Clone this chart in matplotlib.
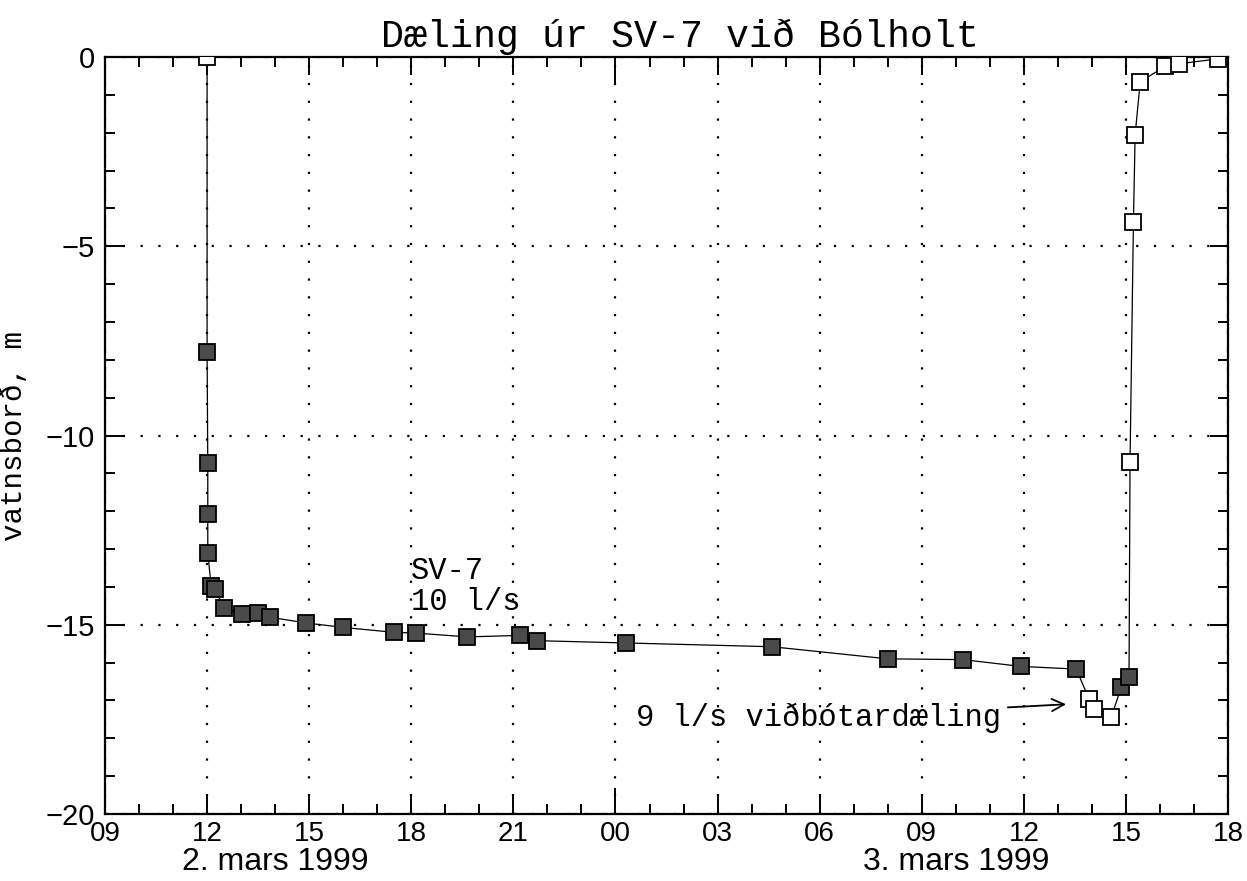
import matplotlib
matplotlib.use("Agg")
from matplotlib import pyplot as plt
from matplotlib.ticker import MultipleLocator, FuncFormatter

# time in hours from 00:00 on 2 March 1999, water level in m
hours_pump = [12.0, 12.0, 12.02, 12.02, 12.02, 12.12, 12.22, 12.5, 13.02, 13.5, 13.85,
              14.9, 16.0, 17.5, 18.15, 19.65, 21.2, 21.7, 24.3, 28.6, 32.0, 34.2, 35.92, 37.54]
level_pump = [0.0, -7.8, -10.72, -12.08, -13.1, -13.98, -14.05, -14.55, -14.72, -14.68, -14.8,
              -14.95, -15.07, -15.2, -15.22, -15.32, -15.28, -15.42, -15.48, -15.58, -15.9,
              -15.92, -16.1, -16.17]
hours_extra = [37.92, 38.07, 38.57]
level_extra = [-16.97, -17.23, -17.44]
hours_after = [38.86, 39.09]
level_after = [-16.65, -16.39]
hours_recovery = [39.12, 39.22, 39.27, 39.42, 40.15, 40.55, 41.7]
level_recovery = [-10.7, -4.35, -2.05, -0.65, -0.25, -0.18, -0.05]

title = "Dæling úr SV-7 við Bólholt"
y_title = "vatnsborð, m"
date_labels = ["2. mars 1999", "3. mars 1999"]
date_label_hours = [14.0, 34.0]

mono = ["Liberation Mono", "DejaVu Sans Mono"]
sans = ["Liberation Sans", "DejaVu Sans"]

fig = plt.figure(figsize=(12.47, 8.81), dpi=100)
ax = fig.add_axes([0.0842, 0.0760, 0.9006, 0.8593])

all_hours = hours_pump + hours_extra + hours_after + hours_recovery
all_level = level_pump + level_extra + level_after + level_recovery
ax.plot(all_hours, all_level, color="black", lw=0.9, zorder=3)
ax.plot(hours_pump[:1], level_pump[:1], ls="none", marker="s", ms=12, mfc="white",
        mec="black", mew=1.3, zorder=4)
ax.plot(hours_pump[1:] + hours_after, level_pump[1:] + level_after, ls="none", marker="s",
        ms=12, mfc="#4a4a4a", mec="black", mew=1.3, zorder=4)
ax.plot(hours_extra + hours_recovery, level_extra + level_recovery, ls="none", marker="s",
        ms=12, mfc="white", mec="black", mew=1.3, zorder=4)

ax.set_xlim(9, 42)
ax.set_ylim(-20, 0)
ax.xaxis.set_major_locator(MultipleLocator(3))
ax.xaxis.set_minor_locator(MultipleLocator(1))
ax.yaxis.set_major_locator(MultipleLocator(5))
ax.yaxis.set_minor_locator(MultipleLocator(1))
ax.xaxis.set_major_formatter(FuncFormatter(lambda h, pos: "%02d" % (int(round(h)) % 24)))
ax.yaxis.set_major_formatter(FuncFormatter(lambda v, pos: "%d" % v if v == 0 else "\u2212%d" % -v))

ax.tick_params(which="both", direction="in", top=True, right=True, width=1.4, colors="black")
ax.tick_params(which="major", length=13)
ax.tick_params(which="minor", length=7.5)
ax.tick_params(axis="x", which="major", pad=5, labelsize=20)
ax.tick_params(axis="y", which="major", pad=7, labelsize=21)
for lab in ax.get_xticklabels() + ax.get_yticklabels():
    lab.set_family(sans)

for tick in ax.xaxis.get_major_ticks():
    if abs(tick.get_loc() - 24) < 0.01:
        tick.tick1line.set_markersize(19)
        tick.tick2line.set_markersize(19)

for s in ax.spines.values():
    s.set_linewidth(1.6)

ax.grid(True, which="major", color="black", linestyle=(0, (1, 7)), linewidth=1.6)
ax.set_axisbelow(True)

ax.set_title(title, family=mono, fontsize=27.5, pad=7, x=0.512)
ax.set_ylabel(y_title, family=mono, fontsize=21)
ax.yaxis.set_label_coords(-0.069, 0.5)

ax.text(18.0, -13.59, "SV-7", family=mono, fontsize=22, ha="left", va="center", zorder=5)
ax.text(18.0, -14.41, "10 l/s", family=mono, fontsize=22, ha="left", va="center", zorder=5)
ax.annotate("9 l/s viðbótardæling", xy=(37.24, -17.1), xytext=(24.6, -17.45),
            family=mono, fontsize=22, ha="left", va="center",
            arrowprops=dict(arrowstyle="->", color="black", lw=1.3, shrinkA=3, shrinkB=0,
                            mutation_scale=22))

for h, txt in zip(date_label_hours, date_labels):
    ax.text(h, -0.063, txt, transform=ax.get_xaxis_transform(), family=sans,
            fontsize=23, ha="center", va="center")

fig.savefig("out.png", dpi=100)
